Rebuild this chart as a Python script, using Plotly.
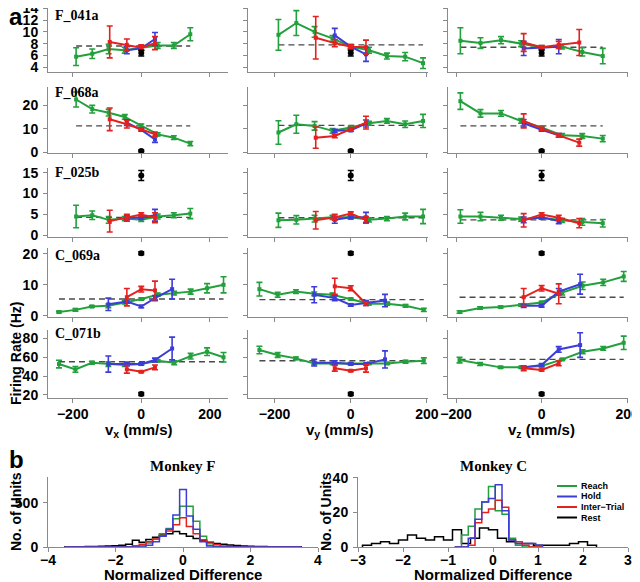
import plotly.graph_objects as go

# The page body adds an 8px margin, so the figure is drawn 8px smaller and
# every reference-pixel position is shifted by OFF.
W, H = 632, 574
OFF = 8

# ---------------- velocity bins (mm/s) ----------------
F_REACH_X = [-190, -143, -95, -48, 0, 48, 95, 143]
F_REACH_X_VY = [-190, -143, -95, -48, 0, 48, 95, 143, 190]
F_HOLD_X = [-42, 0, 40]
F_INTER_X = [-92, -42, 0, 40]
F_INTER_X_VZ = [-42, 0, 40, 88]
C_REACH_X = [-240, -192, -144, -96, -48, 0, 48, 96, 144, 192, 240]
C_REACH_X_VY = [-240, -192, -144, -96, -48, 0, 48, 96, 144, 192]
C_REACH_X_VZ = [-192, -144, -96, -48, 0, 48, 96, 144, 192]
C_HOLD_X = [-96, -42, 0, 40, 90]
C_HOLD_X_VZ = [-42, 0, 40, 90]
C_INTER_X = [-42, 0, 40]

# ---------------- firing rates: (mean, s.e.m.) in Hz ----------------
# F_041a
F041A_VX_REACH = [(5.8, 1.5), (6.3, 0.8), (7.1, 0.8), (6.9, 0.5), (7.3, 0.4), (7.7, 0.5), (7.7, 0.5), (9.6, 1.1)]
F041A_VX_HOLD = [(6.9, 0.6), (7.2, 0.3), (8.8, 1.1)]
F041A_VX_INTER = [(8.3, 2.7), (7.8, 1.0), (7.3, 0.5), (8.1, 1.1)]
F041A_VY_REACH = [(9.5, 2.6), (11.5, 2.1), (10.0, 0.9), (8.9, 0.5), (7.5, 0.4), (6.9, 0.5), (5.9, 0.5), (5.8, 0.7), (4.7, 0.9)]
F041A_VY_HOLD = [(9.4, 1.2), (7.5, 0.3), (6.2, 1.2)]
F041A_VY_INTER = [(9.0, 3.6), (8.1, 0.6), (7.5, 0.3), (7.4, 1.2)]
F041A_VZ_REACH = [(8.5, 2.2), (8.1, 0.9), (8.6, 0.6), (8.0, 0.5), (7.4, 0.3), (7.5, 0.4), (6.6, 0.7), (5.9, 1.3)]
F041A_VZ_HOLD = [(7.2, 1.2), (7.3, 0.3), (7.5, 1.2)]
F041A_VZ_INTER = [(8.2, 1.5), (7.4, 0.3), (7.8, 0.6), (8.2, 2.2)]
F041A_REST = (6.4, 0.5)
F041A_MEAN = [7.6, 7.8, 7.4]

# F_068a
F068A_VX_REACH = [(22.5, 3.2), (18.4, 1.6), (16.9, 1.4), (15.1, 1.0), (11.4, 0.7), (7.7, 0.7), (6.3, 0.8), (3.8, 0.9)]
F068A_VX_HOLD = [(12.7, 1.2), (9.6, 0.6), (5.6, 1.3)]
F068A_VX_INTER = [(14.1, 4.8), (12.0, 1.6), (9.9, 0.5), (7.7, 1.0)]
F068A_VY_REACH = [(8.5, 5.0), (12.0, 3.8), (11.3, 1.8), (9.2, 1.0), (10.6, 0.6), (12.4, 0.8), (13.4, 1.0), (12.0, 1.4), (13.4, 2.8)]
F068A_VY_HOLD = [(9.2, 0.7), (9.4, 0.5), (12.3, 1.5)]
F068A_VY_INTER = [(6.3, 4.5), (7.0, 0.7), (9.9, 0.7), (12.7, 2.7)]
F068A_VZ_REACH = [(21.8, 3.5), (16.6, 1.6), (16.6, 1.2), (13.4, 1.0), (10.6, 0.6), (7.3, 0.8), (7.0, 1.0), (5.9, 1.3)]
F068A_VZ_HOLD = [(12.4, 1.6), (9.6, 0.6), (7.3, 0.8)]
F068A_VZ_INTER = [(13.4, 3.0), (10.1, 0.6), (7.3, 0.8), (4.2, 1.5)]
F068A_REST = (0.7, 0.4)
F068A_MEAN = [11.3, 11.5, 11.3]

# F_025b
F025B_VX_REACH = [(4.5, 2.7), (4.8, 1.0), (3.7, 0.8), (4.0, 0.5), (3.7, 0.4), (4.5, 0.6), (4.8, 0.6), (5.2, 1.2)]
F025B_VX_HOLD = [(4.2, 0.5), (4.2, 0.4), (4.8, 1.4)]
F025B_VX_INTER = [(3.4, 2.6), (4.2, 0.8), (5.0, 0.4), (4.2, 1.2)]
F025B_VY_REACH = [(3.6, 1.7), (3.7, 1.0), (4.0, 0.8), (4.3, 0.5), (4.3, 0.3), (3.7, 0.5), (4.0, 0.5), (4.5, 0.8), (4.5, 1.7)]
F025B_VY_HOLD = [(3.7, 0.8), (4.3, 0.4), (4.3, 1.2)]
F025B_VY_INTER = [(3.6, 2.1), (4.3, 0.7), (5.2, 0.4), (3.7, 0.8)]
F025B_VZ_REACH = [(4.5, 1.6), (4.5, 1.0), (4.2, 0.6), (3.9, 0.5), (4.2, 0.3), (3.6, 0.5), (3.2, 0.8), (2.9, 0.9)]
F025B_VZ_HOLD = [(3.7, 0.7), (4.3, 0.4), (3.4, 0.6)]
F025B_VZ_INTER = [(3.6, 1.6), (5.0, 0.4), (4.2, 0.6), (2.9, 1.1)]
F025B_REST = (14.3, 1.2)
F025B_MEAN = [4.3, 4.2, 3.7]

# C_069a
C069A_VX_REACH = [(1.2, 0.3), (1.9, 0.4), (3.0, 0.3), (3.2, 0.6), (4.3, 0.5), (5.4, 0.4), (6.8, 0.5), (7.3, 0.6), (7.8, 0.8), (8.9, 1.5), (10.0, 2.6)]
C069A_VX_HOLD = [(3.7, 2.0), (4.6, 0.5), (3.0, 0.4), (5.7, 0.8), (8.6, 3.2)]
C069A_VX_INTER = [(6.0, 2.8), (8.6, 0.9), (8.2, 3.0)]
C069A_VY_REACH = [(8.6, 2.2), (6.8, 0.8), (7.8, 0.6), (7.1, 0.6), (6.8, 0.5), (5.4, 0.3), (3.9, 0.4), (3.9, 0.5), (3.2, 0.4), (1.9, 0.5)]
C069A_VY_HOLD = [(6.8, 2.6), (5.7, 0.8), (3.5, 0.4), (4.1, 0.8), (4.9, 2.0)]
C069A_VY_INTER = [(9.5, 2.6), (8.9, 0.8), (3.9, 0.6)]
C069A_VZ_REACH = [(1.2, 0.4), (2.5, 0.4), (2.8, 0.3), (3.5, 0.4), (4.3, 0.4), (7.5, 0.8), (9.7, 1.2), (10.8, 1.0), (12.7, 1.6)]
C069A_VZ_HOLD = [(3.2, 0.5), (3.2, 0.4), (7.8, 1.0), (10.2, 3.2)]
C069A_VZ_INTER = [(6.0, 2.8), (8.9, 0.9), (7.1, 3.2)]
C069A_REST = (20.2, 0.5)
C069A_MEAN = [5.4, 5.2, 6.0]

# C_071b
C071B_VX_REACH = [(52.6, 4), (47.0, 3), (54.0, 1.5), (52.6, 2.5), (51.6, 1.5), (52.6, 1), (56.1, 1), (54.0, 2), (61.0, 3), (65.6, 4), (59.7, 5)]
C071B_VX_HOLD = [(52.6, 8.5), (52.6, 2), (52.6, 1), (56.8, 2), (69.0, 12)]
C071B_VX_INTER = [(47.0, 4), (44.5, 1), (49.1, 2.5)]
C071B_VY_REACH = [(67.4, 4), (62.1, 2.5), (58.6, 1.5), (53.3, 1.5), (53.3, 1), (53.3, 1), (53.3, 1), (53.3, 1), (55.1, 1.5), (56.1, 3)]
C071B_VY_HOLD = [(54.0, 3.5), (54.0, 2), (52.6, 1), (52.6, 1), (57.5, 9)]
C071B_VY_INTER = [(48.1, 3), (45.6, 1), (48.1, 4)]
C071B_VZ_REACH = [(56.8, 3), (52.6, 1.5), (49.1, 1), (49.1, 1), (50.5, 1), (57.5, 1), (65.6, 2), (69.1, 2), (75.0, 7)]
C071B_VZ_HOLD = [(49.1, 1.5), (51.6, 1.5), (68.0, 3), (72.6, 13)]
C071B_VZ_INTER = [(48.1, 2.5), (46.3, 1), (53.3, 2.5)]
C071B_REST = (21.0, 1.5)
C071B_MEAN = [55.1, 56.1, 57.5]

UNIT_NAMES = ["F_041a", "F_068a", "F_025b", "C_069a", "C_071b"]
DIR_LABELS = ["v<sub>x</sub> (mm/s)", "v<sub>y</sub> (mm/s)", "v<sub>z</sub> (mm/s)"]
Y_TICKS = [[4, 6, 8, 10, 12, 14], [0, 10, 20], [0, 5, 10, 15], [0, 10, 20], [20, 40, 60, 80]]
X_TICKS = [-200, 0, 200]

# ---------------- histograms (bin centres, counts) ----------------
F_BINS = [round(-3.4 + 0.2 * i, 1) for i in range(35)]
F_REACH_N = [0] * 11 + [15, 45, 90, 150, 210, 320, 460, 460, 290, 120, 20, 5] + [0] * 12
F_HOLD_N = [0] * 12 + [20, 60, 120, 200, 360, 650, 350, 200, 60, 10] + [0] * 13
F_INTER_N = [0] * 10 + [15, 30, 60, 90, 130, 180, 250, 330, 230, 150, 80, 45, 25, 10] + [0] * 11
F_REST_N = [3, 3, 4, 5, 6, 8, 10, 14, 20, 30, 75, 55, 85, 110, 135, 150, 175, 150, 120, 95, 75, 55, 40, 30, 22, 16, 12, 9, 7, 5, 4, 3, 3, 2, 2]

C_BINS = [round(-0.775 + 0.15 * i, 3) for i in range(13)]
C_REACH_N = [0, 7, 12, 22, 26, 35, 21, 19, 5, 1, 0, 0, 0]
C_HOLD_N = [0, 0, 5, 16, 26, 28, 36, 21, 4, 2, 2, 2, 1]
C_INTER_N = [0, 0, 1, 14, 20, 22, 27, 23, 4, 3, 1, 0, 0]
C_REST_BINS = [round(-2.8 + 0.2 * i, 1) for i in range(26)]
C_REST_N = [1, 2, 3, 2, 4, 7, 5, 4, 6, 4, 10, 2, 5, 11, 10, 5, 3, 2, 2, 1, 1, 1, 1, 2, 3, 1]

SERIES = ["Reach", "Hold", "Inter\u2212Trial", "Rest"]

GREEN = "#22a03c"
BLUE = "#3c3cd8"
RED = "#e3211e"
BLACK = "#000000"
AXC = "#8a8a8a"

PANELS = [
    (F_REACH_X, F041A_VX_REACH, F_HOLD_X, F041A_VX_HOLD, F_INTER_X, F041A_VX_INTER),
    (F_REACH_X_VY, F041A_VY_REACH, F_HOLD_X, F041A_VY_HOLD, F_INTER_X, F041A_VY_INTER),
    (F_REACH_X, F041A_VZ_REACH, F_HOLD_X, F041A_VZ_HOLD, F_INTER_X_VZ, F041A_VZ_INTER),
    (F_REACH_X, F068A_VX_REACH, F_HOLD_X, F068A_VX_HOLD, F_INTER_X, F068A_VX_INTER),
    (F_REACH_X_VY, F068A_VY_REACH, F_HOLD_X, F068A_VY_HOLD, F_INTER_X, F068A_VY_INTER),
    (F_REACH_X, F068A_VZ_REACH, F_HOLD_X, F068A_VZ_HOLD, F_INTER_X_VZ, F068A_VZ_INTER),
    (F_REACH_X, F025B_VX_REACH, F_HOLD_X, F025B_VX_HOLD, F_INTER_X, F025B_VX_INTER),
    (F_REACH_X_VY, F025B_VY_REACH, F_HOLD_X, F025B_VY_HOLD, F_INTER_X, F025B_VY_INTER),
    (F_REACH_X, F025B_VZ_REACH, F_HOLD_X, F025B_VZ_HOLD, F_INTER_X_VZ, F025B_VZ_INTER),
    (C_REACH_X, C069A_VX_REACH, C_HOLD_X, C069A_VX_HOLD, C_INTER_X, C069A_VX_INTER),
    (C_REACH_X_VY, C069A_VY_REACH, C_HOLD_X, C069A_VY_HOLD, C_INTER_X, C069A_VY_INTER),
    (C_REACH_X_VZ, C069A_VZ_REACH, C_HOLD_X_VZ, C069A_VZ_HOLD, C_INTER_X, C069A_VZ_INTER),
    (C_REACH_X, C071B_VX_REACH, C_HOLD_X, C071B_VX_HOLD, C_INTER_X, C071B_VX_INTER),
    (C_REACH_X_VY, C071B_VY_REACH, C_HOLD_X, C071B_VY_HOLD, C_INTER_X, C071B_VY_INTER),
    (C_REACH_X_VZ, C071B_VZ_REACH, C_HOLD_X_VZ, C071B_VZ_HOLD, C_INTER_X, C071B_VZ_INTER),
]
RESTS = [F041A_REST, F068A_REST, F025B_REST, C069A_REST, C071B_REST]
MEANS = [F041A_MEAN, F068A_MEAN, F025B_MEAN, C069A_MEAN, C071B_MEAN]

# ---------------- layout geometry (reference pixels) ----------------
COLS = [(48, 228), (248, 428), (448, 628)]
ROWS = [(8, 72), (87, 153), (168, 237), (248, 317), (330, 398)]
XRANGES = [[-272, 253], [-270, 203], [-219, 202]]
YRANGES = [[3.2, 14.05], [-0.2, 27.8], [-0.4, 16.1], [-0.4, 21.9], [16.8, 88.5]]


def px(x):
    return min(1.0, max(0.0, (x - OFF) / W))


def py(y):
    return min(1.0, max(0.0, 1 - (y - OFF) / H))


TICKFONT = dict(family="Liberation Sans", size=14, color="black", weight="bold")
fig = go.Figure()
layout = {}


def axis_style(**kw):
    d = dict(showline=True, linecolor=AXC, linewidth=1, ticks="outside", ticklen=4,
             tickcolor=AXC, tickwidth=1, showgrid=False, zeroline=False,
             tickfont=TICKFONT, fixedrange=True, automargin=False,
             ticklabeloverflow="allow")
    d.update(kw)
    return d


def err_trace(x, pairs, color, xa, ya, lw=2, marker_sym="square", msize=4):
    return go.Scatter(
        x=x, y=[p[0] for p in pairs], mode="lines+markers",
        line=dict(color=color, width=lw),
        marker=dict(color=color, size=msize, symbol=marker_sym),
        error_y=dict(type="data", array=[p[1] for p in pairs], color=color,
                     thickness=1.6, width=3),
        xaxis=xa, yaxis=ya, showlegend=False, hoverinfo="skip")


idx = 0
for r in range(5):
    for c in range(3):
        idx += 1
        sfx = "" if idx == 1 else str(idx)
        xa, ya = "x" + sfx, "y" + sfx
        rx, reach, hx, hold, ix, inter = PANELS[r * 3 + c]
        layout["xaxis" + sfx] = axis_style(
            domain=[px(COLS[c][0]), px(COLS[c][1])], range=XRANGES[c], anchor=ya,
            tickvals=X_TICKS, showticklabels=(r == 4), ticklabelstandoff=-1)
        layout["yaxis" + sfx] = axis_style(
            domain=[py(ROWS[r][1]), py(ROWS[r][0])], range=YRANGES[r], anchor=xa,
            tickvals=Y_TICKS[r], showticklabels=(c == 0), ticklabelstandoff=2)
        # dashed overall mean
        fig.add_trace(go.Scatter(x=[rx[0], rx[-1]], y=[MEANS[r][c]] * 2, mode="lines",
                                 line=dict(color="#4a4a4a", width=1.4, dash="6px,4px"),
                                 xaxis=xa, yaxis=ya, showlegend=False, hoverinfo="skip"))
        fig.add_trace(err_trace(rx, reach, GREEN, xa, ya))
        fig.add_trace(err_trace(hx, hold, BLUE, xa, ya))
        fig.add_trace(err_trace(ix, inter, RED, xa, ya))
        fig.add_trace(err_trace([0], [RESTS[r]], BLACK, xa, ya, marker_sym="circle", msize=6))


def steps(centers, counts, width):
    xs = [centers[0] - width / 2] + [cc - width / 2 for cc in centers] + [centers[-1] + width / 2]
    ys = [0] + list(counts) + [0]
    return xs, ys


HISTS = [
    ((48, 318), [-4, 4], [-4, -2, 0, 2, 4], [0, 790], [0, 500],
     [(F_BINS, F_REACH_N, 0.2, GREEN), (F_BINS, F_HOLD_N, 0.2, BLUE),
      (F_BINS, F_INTER_N, 0.2, RED), (F_BINS, F_REST_N, 0.2, BLACK)]),
    ((358, 628), [-3, 3], [-3, -2, -1, 0, 1, 2, 3], [0, 40.5], [0, 20, 40],
     [(C_BINS, C_REACH_N, 0.15, GREEN), (C_BINS, C_HOLD_N, 0.15, BLUE),
      (C_BINS, C_INTER_N, 0.15, RED), (C_REST_BINS, C_REST_N, 0.2, BLACK)]),
]
for k, (xd, xr, xt, yr, yt, hs) in enumerate(HISTS):
    idx += 1
    sfx = str(idx)
    xa, ya = "x" + sfx, "y" + sfx
    layout["xaxis" + sfx] = axis_style(domain=[px(xd[0]), px(xd[1])], range=xr, anchor=ya,
                                        tickvals=xt, ticklabelstandoff=-4)
    layout["yaxis" + sfx] = axis_style(domain=[py(547), py(477)], range=yr, anchor=xa,
                                        tickvals=yt, ticklabelstandoff=2)
    for j in [3, 0, 2, 1]:
        cen, cnt, wd, col = hs[j]
        xs, ys = steps(cen, cnt, wd)
        fig.add_trace(go.Scatter(x=xs, y=ys, mode="lines", line=dict(color=col, width=1.5, shape="hv"),
                                 xaxis=xa, yaxis=ya, showlegend=False, hoverinfo="skip"))

BOLD = dict(family="Liberation Sans", size=15, color="black", weight="bold")
BOLD14 = dict(family="Liberation Sans", size=14, color="black", weight="bold")
SERIF = dict(family="Liberation Serif", size=14, color="black", weight="bold")
ann = []


def note(x, y, text, font, xanchor="center", angle=0, yanchor="middle"):
    ann.append(dict(x=(x - OFF) / W, y=1 - (y - OFF) / H, xref="paper", yref="paper", text=text,
                    showarrow=False, xanchor=xanchor, yanchor=yanchor, textangle=angle,
                    font=font, borderpad=0))


BIG = dict(family="Liberation Sans", size=24, color="black", weight="bold")
note(8, 17, "a", BIG, "left")
note(8, 459, "b", BIG, "left")
TITLE_Y = [16, 92, 172, 255, 333]
for r, name in enumerate(UNIT_NAMES):
    note(54, TITLE_Y[r], name, SERIF, "left")
for c, lab in enumerate(DIR_LABELS):
    note([139, 340, 541][c], 430, lab, BOLD)
note(16, 354, "Firing Rate (Hz)", BOLD14, angle=-90)
for cx, lx, title in [(183, 16, "Monkey F"), (493, 326, "Monkey C")]:
    note(cx, 466, title, dict(family="Liberation Serif", size=15, color="black", weight="bold"))
    note(cx, 574, "Normalized Difference", BOLD)
    note(lx, 512, "No. of Units", BOLD14, angle=-90)

# legend (inside Monkey C histogram)
shapes = []
LEG_Y = [486, 496.5, 507, 517.5]
LEGFONT = dict(family="Liberation Sans", size=9, color="black", weight="bold")
for i, (name, col) in enumerate(zip(SERIES, [GREEN, BLUE, RED, BLACK])):
    shapes.append(dict(type="line", xref="paper", yref="paper", x0=px(557), x1=px(577),
                       y0=py(LEG_Y[i]), y1=py(LEG_Y[i]), line=dict(color=col, width=2)))
    note(580, LEG_Y[i], name, LEGFONT, "left")

fig.update_layout(width=W, height=H, margin=dict(l=0, r=0, t=0, b=0, autoexpand=False),
                  paper_bgcolor="white", plot_bgcolor="white", showlegend=False,
                  annotations=ann, shapes=shapes, **layout)
fig.write_html("out.html")
